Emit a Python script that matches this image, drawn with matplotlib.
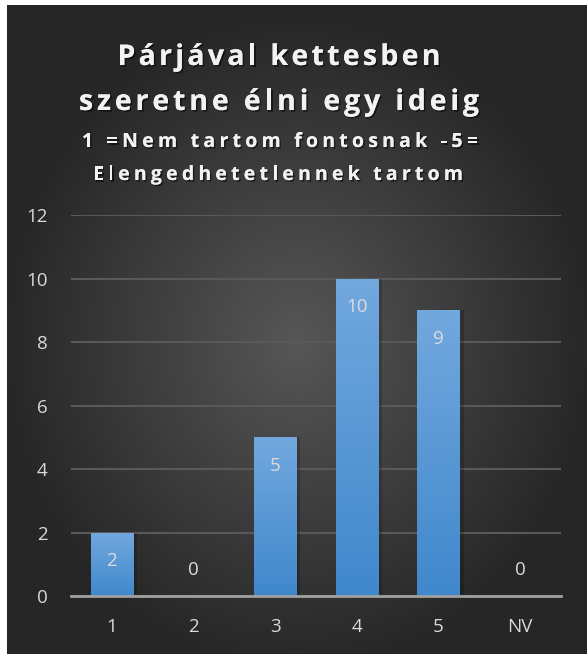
import numpy as np
import matplotlib.pyplot as plt
import matplotlib.patheffects as pe
from matplotlib.font_manager import FontProperties

# data
categories = ['1', '2', '3', '4', '5', 'NV']
counts = [2, 0, 5, 10, 9, 0]
title_lines = ['Párjával kettesben', 'szeretne élni egy ideig']
subtitle_lines = ['1 =Nem tartom fontosnak -5=', 'Elengedhetetlennek tartom']

W, H = 587, 654
fig = plt.figure(figsize=(W / 100, H / 100), dpi=100, facecolor='white')
plt.rcParams['font.family'] = ['Open Sans', 'DejaVu Sans']

# dark radial gradient background
bg = fig.add_axes([7 / W, 0, 1 - 7 / W, 1 - 5 / H])
bg.set_axis_off()
yy, xx = np.mgrid[0:1:300j, 0:1:300j]
r = np.sqrt(((xx - 0.5) / 0.75) ** 2 + ((yy - 0.48) / 0.75) ** 2)
shade = np.clip(0.34 - 0.28 * r, 0.15, 0.34)
bg.imshow(np.dstack([shade, shade, shade]), extent=[0, 1, 0, 1], aspect='auto', origin='lower')
bg.set_xlim(0, 1)
bg.set_ylim(0, 1)

ax = fig.add_axes([71 / W, (H - 596) / H, 490 / W, 381 / H])
ax.set_facecolor('none')
x = np.arange(len(categories))
bars = ax.bar(x, counts, width=0.52, color='#5b9bd5', zorder=3)

# vertical gradient on each bar, plus soft shadow
grad = np.linspace(0, 1, 100).reshape(-1, 1)
top = np.array([0x72, 0xa8, 0xde]) / 255
bot = np.array([0x40, 0x88, 0xcc]) / 255
img = bot + (top - bot) * grad[..., None]
for b, v in zip(bars, counts):
    if v == 0:
        continue
    x0 = b.get_x()
    w = b.get_width()
    ax.bar(x0 + w / 2 + 0.03, v, width=w + 0.04, color='black', alpha=0.18, zorder=2)
    im = ax.imshow(img, extent=[x0, x0 + w, 0, v], aspect='auto', origin='lower', zorder=4)
    im.set_clip_path(b)

for xi, v in zip(x, counts):
    if v > 0:
        ax.annotate(str(v), (xi, v), xytext=(0, -20.5), textcoords='offset points',
                    ha='center', va='center', color='#dcdcdc', fontsize=13.5, zorder=5)
    else:
        ax.annotate(str(v), (xi, v), xytext=(0, 19), textcoords='offset points',
                    ha='center', va='center', color='#dcdcdc', fontsize=13.5, zorder=5)

ax.set_xlim(-0.5, len(categories) - 0.5)
ax.set_ylim(0, 12)
ax.set_yticks(range(0, 13, 2))
ax.set_xticks(x)
ax.set_xticklabels(categories)
ax.yaxis.grid(True, color='#595959', linewidth=1.5, zorder=0)
ax.set_axisbelow(True)
for s in ['top', 'right', 'left']:
    ax.spines[s].set_visible(False)
ax.spines['bottom'].set_color('#a0a0a0')
ax.spines['bottom'].set_linewidth(2)
ax.spines['bottom'].set_zorder(6)
ax.tick_params(axis='both', length=0, colors='#d9d9d9', labelsize=13.5)
ax.tick_params(axis='x', pad=16)
ax.tick_params(axis='y', pad=17)

# title with letter spacing, drawn one character at a time
shadow = [pe.withSimplePatchShadow(offset=(1.2, -1.2), shadow_rgbFace='black', alpha=0.5), pe.Normal()]
renderer = fig.canvas.get_renderer()


def spaced_text(s, cx, baseline, size, width_px):
    prop = FontProperties(family=['Open Sans', 'DejaVu Sans'], weight='bold', size=size)
    ref = renderer.get_text_width_height_descent('ii', prop, ismath=False)[0]
    widths = [renderer.get_text_width_height_descent('i' + c + 'i', prop, ismath=False)[0] - ref
              for c in s]
    track = (width_px - sum(widths)) / (len(s) - 1)
    xpos = cx - width_px / 2
    for c, w in zip(s, widths):
        if c != ' ':
            fig.text(xpos / W, 1 - baseline / H, c, ha='left', va='baseline', color='#f2f2f2',
                     fontproperties=prop, path_effects=shadow)
        xpos += w + track


spaced_text(title_lines[0], 279, 65, 20.5, 323)
spaced_text(title_lines[1], 279, 110, 20.5, 400)
spaced_text(subtitle_lines[0], 280, 147, 14, 396)
spaced_text(subtitle_lines[1], 278, 180, 14, 370)

fig.savefig('out.png', dpi=100, facecolor='white')
